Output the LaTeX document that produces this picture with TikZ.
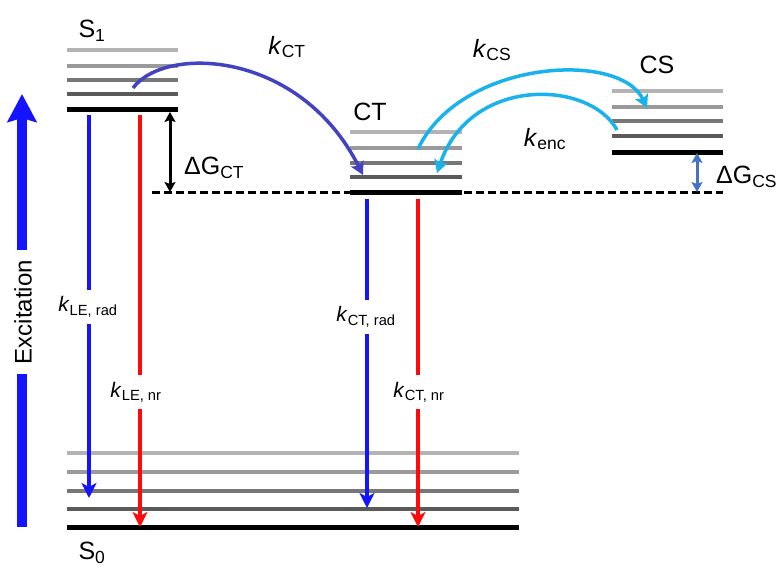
\documentclass[tikz,border=0pt]{standalone}
\usepackage{fontspec}
\setmainfont{Liberation Sans}
\usetikzlibrary{arrows.meta}
\definecolor{lvA}{HTML}{B3B3B3}
\definecolor{lvB}{HTML}{9A9A9A}
\definecolor{lvC}{HTML}{777777}
\definecolor{lvD}{HTML}{5A5A5A}
\definecolor{radblue}{HTML}{1414FF}
\definecolor{nrred}{HTML}{FF0A0A}
\definecolor{ctpurple}{HTML}{4242C2}
\definecolor{csblue}{HTML}{19B2EC}
\definecolor{gsteel}{HTML}{4472C4}
\newcommand{\krate}[1]{\textit{k}\textsubscript{#1}}
\tikzset{
  lvl/.style={line width=3.5pt},
  groundlvl/.style={line width=5pt, black},
  rate/.style={line width=4.5pt, -{Stealth[length=15pt,width=15pt,inset=4pt]}},
  hop/.style={line width=3.5pt, -{Stealth[length=13pt,width=14pt,inset=3pt]}},
  gap/.style={line width=3pt, {Stealth[length=10pt,width=11pt,inset=2pt]}-{Stealth[length=10pt,width=11pt,inset=2pt]}},
  ratebox/.style={fill=white, inner xsep=12pt, inner ysep=7pt, font=\fontsize{21}{24}\selectfont},
  lbl/.style={inner sep=0pt, font=\fontsize{25}{30}\selectfont},
}

\begin{document}
\begin{tikzpicture}[x=1pt,y=-1pt]
  \useasboundingbox (0,0) rectangle (781,567);
  % vibrational levels
  \foreach \xa/\xb/\ya/\yb/\yc/\yd/\ye in {67/178/50/66/80/94/110, 350/462/132/148/163/177/192,
      612/723/91/107/121/136/152, 67/519/453/472/491/509/527} {
    \draw[lvl, lvA] (\xa,\ya) -- (\xb,\ya);
    \draw[lvl, lvB] (\xa,\yb) -- (\xb,\yb);
    \draw[lvl, lvC] (\xa,\yc) -- (\xb,\yc);
    \draw[lvl, lvD] (\xa,\yd) -- (\xb,\yd);
  }
  \draw[line width=3pt, dash pattern=on 8pt off 4pt] (152,192) -- (723,192);
  \foreach \xa/\xb/\yy in {67/178/110, 350/462/192, 612/723/152, 67/519/527}
    \draw[groundlvl] (\xa,\yy) -- (\xb,\yy);
  % state labels
  \node[lbl] (s1) at (92,31) {S\textsubscript{1}};
  \node[lbl] (s0) at (92,553) {S\textsubscript{0}};
  \node[lbl] (ct) at (370,112) {CT};
  \node[lbl] (cs) at (657,65) {CS};
  % excitation
  \coordinate (exc-a) at (22,527);
  \coordinate (exc-b) at (22,94);
  \draw[line width=10pt, radblue, -{Stealth[length=28pt,width=29pt,inset=4pt]}] (exc-a) -- (exc-b);
  \node[fill=white, rotate=90, inner xsep=10pt, inner ysep=3pt, font=\fontsize{24}{28}\selectfont] (exc) at (23,312) {Excitation};
  % radiative and non-radiative decay
  \coordinate (le-top1) at (89,115);   \coordinate (le-rad) at (89,498);
  \coordinate (le-top2) at (140,115);  \coordinate (le-nr) at (140,527);
  \coordinate (ct-top1) at (367,199);  \coordinate (ct-rad) at (367,508);
  \coordinate (ct-top2) at (418,199);  \coordinate (ct-nr) at (418,527);
  \draw[rate, radblue] (le-top1) -- (le-rad);
  \draw[rate, nrred] (le-top2) -- (le-nr);
  \draw[rate, radblue] (ct-top1) -- (ct-rad);
  \draw[rate, nrred] (ct-top2) -- (ct-nr);
  \node[ratebox] (klerad) at (88,307) {\krate{LE, rad}};
  \node[ratebox] (klenr) at (136,392) {\krate{LE, nr}};
  \node[ratebox] (kctrad) at (366,317) {\krate{CT, rad}};
  \node[ratebox] (kctnr) at (419,392) {\krate{CT, nr}};
  % free energy gaps
  \coordinate (gct-a) at (170,112); \coordinate (gct-b) at (170,192);
  \coordinate (gcs-a) at (697,153); \coordinate (gcs-b) at (697,192);
  \draw[gap] (gct-a) -- (gct-b);
  \draw[gap, gsteel] (gcs-a) -- (gcs-b);
  \node[lbl, anchor=west] (dgct) at (184,168) {ΔG\textsubscript{CT}};
  \node[lbl, anchor=west] (dgcs) at (716,177) {ΔG\textsubscript{CS}};
  % transfer steps
  \coordinate (kct-a) at (133,88);  \coordinate (kct-b) at (363,175);
  \coordinate (kcs-a) at (418,149); \coordinate (kcs-b) at (647,108);
  \coordinate (kenc-a) at (617,130); \coordinate (kenc-b) at (437,173);
  \draw[hop, ctpurple] (kct-a) .. controls (165,45) and (300,50) .. (kct-b);
  \draw[hop, csblue] (kcs-a) .. controls (460,60) and (620,50) .. (kcs-b);
  \draw[hop, csblue] (kenc-a) .. controls (590,80) and (470,75) .. (kenc-b);
  \node[lbl] (kctl) at (287,47) {\krate{CT}};
  \node[lbl] (kcsl) at (492,50) {\krate{CS}};
  \node[lbl] (kencl) at (545,139) {\krate{enc}};
\end{tikzpicture}
\end{document}
